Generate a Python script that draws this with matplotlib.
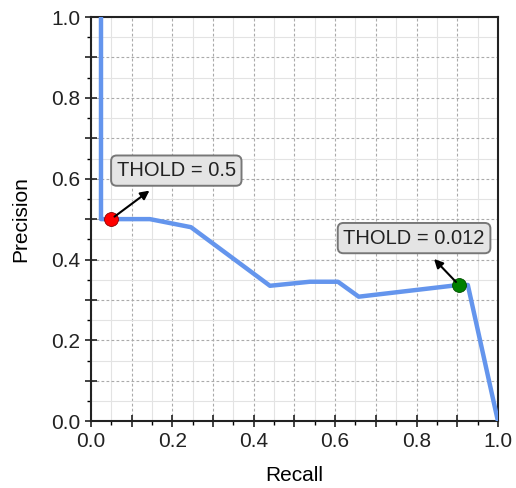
import matplotlib
matplotlib.use("Agg")
import matplotlib.pyplot as plt
from matplotlib.ticker import MultipleLocator, FuncFormatter

plt.rcParams["font.family"] = ["Liberation Sans", "DejaVu Sans"]

# precision-recall curve
recall = [0.025, 0.025, 0.145, 0.246, 0.44, 0.538, 0.607, 0.658, 0.904, 0.926, 1.0]
precision = [1.0, 0.5, 0.5, 0.48, 0.335, 0.345, 0.345, 0.308, 0.337, 0.337, 0.0]

# highlighted thresholds
thold_labels = ["THOLD = 0.5", "THOLD = 0.012"]
thold_recall = [0.05, 0.904]
thold_precision = [0.5, 0.337]
thold_colors = ["#ff0000", "#008000"]
text_pos = [(0.21, 0.62), (0.794, 0.453)]

fig = plt.figure(figsize=(5.16, 4.88), dpi=100)
ax = fig.add_axes([0.176, 0.137, 0.789, 0.828])

ax.plot(recall, precision, color="#6495ED", linewidth=3.2, zorder=3)

for lab, rx, py, c, (tx, ty) in zip(thold_labels, thold_recall, thold_precision,
                                     thold_colors, text_pos):
    edge = "#8a0000" if c == "#ff0000" else "#004d00"
    ax.plot(rx, py, "o", color=c, markersize=10, markeredgecolor=edge,
            markeredgewidth=0.6, zorder=5)
    ax.annotate(lab, xy=(rx, py), xytext=(tx, ty), ha="center", va="center",
                fontsize=14.5, color="#222222",
                bbox=dict(boxstyle="round,pad=0.28", fc="#e4e4e4", ec="#777777", lw=1.4),
                arrowprops=dict(arrowstyle="<|-", color="black", lw=1.5,
                                mutation_scale=13, shrinkA=5, shrinkB=3),
                zorder=6)

ax.set_xlim(0, 1)
ax.set_ylim(0, 1)
ax.set_xlabel("Recall", fontsize=15, labelpad=11)
ax.set_ylabel("Precision", fontsize=15, labelpad=15)

for axis in (ax.xaxis, ax.yaxis):
    axis.set_major_locator(MultipleLocator(0.1))
    axis.set_minor_locator(MultipleLocator(0.05))
    axis.set_major_formatter(FuncFormatter(
        lambda v, p: f"{v:.1f}" if round(v * 10) % 2 == 0 else ""))

ax.tick_params(which="major", direction="inout", length=8, width=1.2,
               labelsize=15, colors="#222222")
ax.tick_params(which="minor", direction="out", length=3, width=1.0)
ax.grid(which="major", linestyle=(0, (2.5, 2)), color="#aaaaaa", linewidth=0.8)
ax.grid(which="minor", linestyle="-", color="#e3e3e3", linewidth=0.8)
ax.set_axisbelow(True)
for s in ax.spines.values():
    s.set_linewidth(1.5)
    s.set_color("#222222")

fig.savefig("out.png", dpi=100, facecolor="white")
